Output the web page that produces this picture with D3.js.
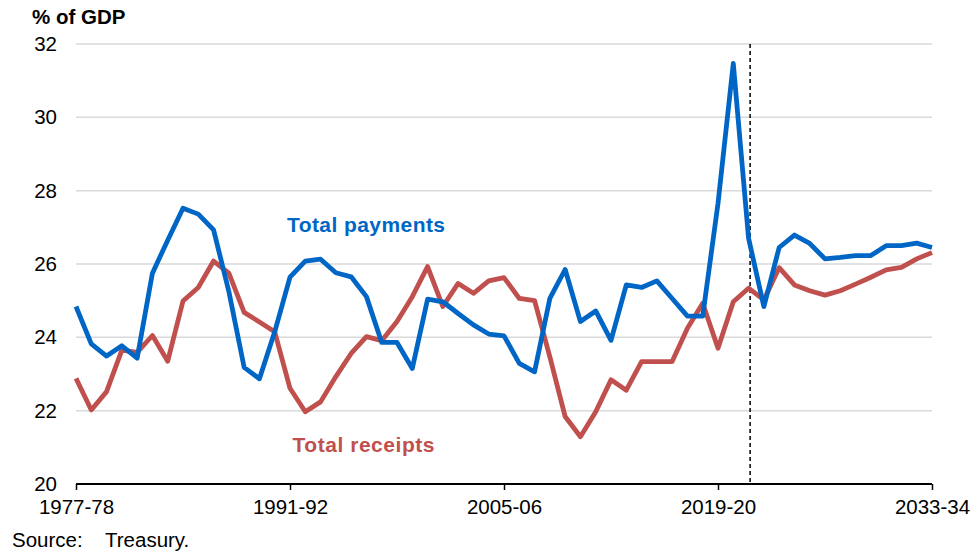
<!DOCTYPE html>
<html>
<head>
<meta charset="utf-8">
<script src="https://cdn.jsdelivr.net/npm/d3@7"></script>
<style>
  html, body { margin: 0; padding: 0; background: #fff; }
  svg { display: block; font-family: "Liberation Sans", Arial, sans-serif; }
</style>
</head>
<body>
<svg id="chart" width="973" height="555"></svg>
<script>
const categories = [
  "1977-78","1978-79","1979-80","1980-81","1981-82","1982-83","1983-84","1984-85","1985-86","1986-87",
  "1987-88","1988-89","1989-90","1990-91","1991-92","1992-93","1993-94","1994-95","1995-96","1996-97",
  "1997-98","1998-99","1999-00","2000-01","2001-02","2002-03","2003-04","2004-05","2005-06","2006-07",
  "2007-08","2008-09","2009-10","2010-11","2011-12","2012-13","2013-14","2014-15","2015-16","2016-17",
  "2017-18","2018-19","2019-20","2020-21","2021-22","2022-23","2023-24","2024-25","2025-26","2026-27",
  "2027-28","2028-29","2029-30","2030-31","2031-32","2032-33","2033-34"
];
const totalPayments = [
  24.84, 23.82, 23.49, 23.77, 23.43, 25.75, 26.65, 27.52, 27.36, 26.93,
  25.25, 23.18, 22.87, 24.15, 25.64, 26.08, 26.13, 25.76, 25.65, 25.11,
  23.86, 23.86, 23.15, 25.04, 24.97, 24.65, 24.34, 24.09, 24.04, 23.29,
  23.06, 25.06, 25.85, 24.43, 24.72, 23.92, 25.43, 25.36, 25.54, 25.06,
  24.58, 24.58, 27.65, 31.47, 26.70, 24.84, 26.45, 26.79, 26.56, 26.14,
  26.18, 26.23, 26.23, 26.50, 26.50, 26.57, 26.45
];
const totalReceipts = [
  22.88, 22.02, 22.52, 23.65, 23.59, 24.05, 23.35, 24.99, 25.36, 26.08,
  25.75, 24.68, 24.42, 24.15, 22.61, 21.97, 22.24, 22.93, 23.56, 24.02,
  23.91, 24.43, 25.11, 25.93, 24.84, 25.47, 25.20, 25.54, 25.63, 25.06,
  25.00, 23.47, 21.84, 21.29, 21.97, 22.84, 22.56, 23.34, 23.34, 23.34,
  24.25, 24.93, 23.70, 24.97, 25.34, 25.02, 25.90, 25.43, 25.27, 25.15,
  25.27, 25.45, 25.64, 25.84, 25.91, 26.14, 26.31
];
const yTicks = [20, 22, 24, 26, 28, 30, 32];
const xTickLabels = ["1977-78", "1991-92", "2005-06", "2019-20", "2033-34"];
const projectionStart = "2021-22";
const seriesNames = ["Total payments", "Total receipts"];
const unitLabel = "% of GDP";
const sourceLabel = ["Source:", "Treasury."];

(function () {
const blue = "#0066c6";
const red = "#c0504d";

const svg = d3.select("#chart");
const mLeft = 76, mRight = 932, mTop = 44, mBottom = 484;

const x = d3.scalePoint().domain(categories).range([mLeft, mRight]);
const y = d3.scaleLinear().domain([20, 32]).range([mBottom, mTop]);

// gridlines
svg.append("g")
  .selectAll("line")
  .data(yTicks.filter(d => d !== 20))
  .join("line")
  .attr("x1", mLeft).attr("x2", mRight)
  .attr("y1", d => y(d)).attr("y2", d => y(d))
  .attr("stroke", "#d9d9d9").attr("stroke-width", 1.5);

// y tick labels
svg.append("g")
  .selectAll("text")
  .data(yTicks)
  .join("text")
  .attr("x", 57)
  .attr("y", d => y(d) + 7)
  .attr("text-anchor", "end")
  .attr("font-size", 20.5)
  .attr("fill", "#000")
  .text(d => d);

// x axis
const xAxis = d3.axisBottom(x).tickValues(xTickLabels).tickSize(6).tickPadding(9);
const gx = svg.append("g").attr("transform", `translate(0,${mBottom})`).call(xAxis);
gx.select(".domain").attr("stroke", "#000").attr("stroke-width", 1.8).attr("d", `M${mLeft},0H${mRight}`);
gx.selectAll(".tick line").attr("stroke", "#000").attr("stroke-width", 1.5);
gx.selectAll(".tick text").attr("font-size", 20.5).attr("fill", "#000")
  .attr("font-family", "'Liberation Sans', Arial, sans-serif");

// projection divider
const step = x.step();
const dx = x(projectionStart) + 0.1 * step;
svg.append("line")
  .attr("x1", dx).attr("x2", dx)
  .attr("y1", mTop).attr("y2", mBottom)
  .attr("stroke", "#000").attr("stroke-width", 1.5)
  .attr("stroke-dasharray", "4,3");

// lines
const line = d3.line().x((d, i) => x(categories[i])).y(d => y(d));
svg.append("path").datum(totalReceipts)
  .attr("fill", "none").attr("stroke", red).attr("stroke-width", 4.8)
  .attr("stroke-linejoin", "round").attr("d", line);
svg.append("path").datum(totalPayments)
  .attr("fill", "none").attr("stroke", blue).attr("stroke-width", 4.8)
  .attr("stroke-linejoin", "round").attr("d", line);

// series labels
svg.append("text").attr("x", 287).attr("y", 231.5)
  .attr("font-size", 21).attr("font-weight", "bold").attr("fill", blue)
  .attr("textLength", 158).attr("lengthAdjust", "spacing")
  .text(seriesNames[0]);
svg.append("text").attr("x", 292.5).attr("y", 451.5)
  .attr("font-size", 21).attr("font-weight", "bold").attr("fill", red)
  .attr("textLength", 142).attr("lengthAdjust", "spacing")
  .text(seriesNames[1]);

// unit label
svg.append("text").attr("x", 32).attr("y", 23.5)
  .attr("font-size", 20.5).attr("font-weight", "bold").attr("fill", "#000")
  .text(unitLabel);

// source
svg.append("text").attr("x", 12).attr("y", 547)
  .attr("font-size", 20.5).attr("fill", "#000").text(sourceLabel[0]);
svg.append("text").attr("x", 105).attr("y", 547)
  .attr("font-size", 20.5).attr("fill", "#000").text(sourceLabel[1]);
})();
</script>
</body>
</html>
